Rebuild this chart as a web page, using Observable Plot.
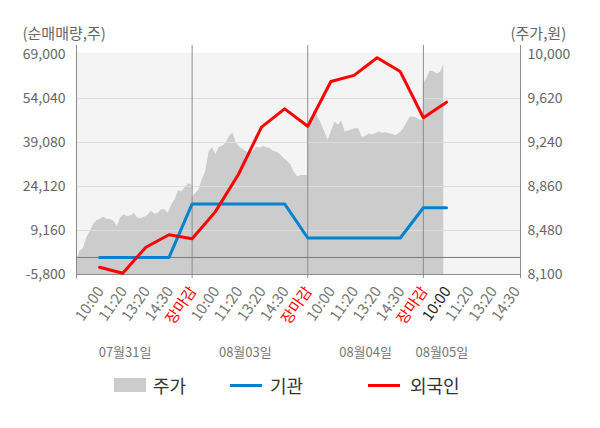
<!DOCTYPE html>
<html><head><meta charset="utf-8">
<script src="https://cdn.jsdelivr.net/npm/d3@7"></script>
<script src="https://cdn.jsdelivr.net/npm/@observablehq/plot@0.6"></script>
<style>
body{margin:0;background:#fff;font-family:"Noto Sans CJK KR","Noto Sans",sans-serif;}
#wrap{width:600px;height:428px;position:relative;overflow:hidden;}
#legend{position:relative;width:600px;height:68px;}
#legend .sw{position:absolute;}
#legend .lb{position:absolute;font-size:18px;color:#333;line-height:18px;}
</style></head><body><div id="wrap"><div id="chart"></div><div id="legend"></div></div>
<script>
// ---- data ----
const leftTicks = [-5800, 9160, 24120, 39080, 54040, 69000];
const rightTicks = [8100, 8480, 8860, 9240, 9620, 10000];
const tickLabels = ["10:00","11:20","13:20","14:30","장마감",
                    "10:00","11:20","13:20","14:30","장마감",
                    "10:00","11:20","13:20","14:30","장마감",
                    "10:00","11:20","13:20","14:30"];
const dateLabels = ["07월31일","08월03일","08월04일","08월05일"];
const datePos = [2.1, 7.3, 12.5, 15.8];
// net buying (shares) at each tick
const institution = [0,0,0,0,18200,18200,18200,18200,18200,6600,6600,6600,6600,6600,16900,16900];
const foreign = [-3320,-5360,3480,7700,6340,15500,28200,44300,50500,44600,59800,61900,67900,63200,47500,52800];
// intraday price (won), sampled evenly through each session
const priceDay1 = [8204,8300,8320,8415,8470,8530,8565,8578,8595,8578,8575,8560,8515,8590,8615,8600,8605,8629,8586,8583,8595,8610,8647,8620,8630,8659,8659,8629,8700,8745,8825,8815,8854,8883,8869];
const priceDay2 = [8760,8797,8830,8920,8990,9160,9195,9136,9200,9208,9235,9295,9320,9235,9200,9180,9160,9145,9165,9200,9190,9205,9195,9186,9165,9156,9135,9105,9078,9048,8985,8945,8955,8955,8955];
const priceDay3 = [9380,9420,9520,9459,9401,9330,9260,9340,9416,9390,9425,9330,9340,9350,9358,9358,9286,9290,9315,9305,9315,9330,9320,9325,9315,9310,9301,9320,9350,9400,9455,9462,9450,9435,9430];
const priceDay4 = [9747,9790,9858,9850,9833,9845,9910];

// ---- build ----
const L0 = leftTicks[0], L1 = leftTicks[leftTicks.length-1];
const R0 = rightTicks[0], R1 = rightTicks[rightTicks.length-1];
const toLeft = p => L0 + (p - R0) / (R1 - R0) * (L1 - L0);
const perDay = 5;
const step = perDay / (priceDay1.length - 1);
const price = [];
[priceDay1, priceDay2, priceDay3, priceDay4].forEach((arr, d) => {
  arr.forEach((p, j) => price.push({t: d * perDay + j * step, v: toLeft(p)}));
});
const inst = institution.map((v, i) => ({t: i + 1, v}));
const forg = foreign.map((v, i) => ({t: i + 1, v}));
const xMax = tickLabels.length + 0.2;
const dayEdges = [0, 5, 10, 15];
const tickData = tickLabels.map((label, i) => ({
  pos: i + 1, label,
  color: label === "장마감" ? "#ff0000" : (i === 15 ? "#222222" : "#777777")
}));
const dateData = dateLabels.map((label, i) => ({label, pos: datePos[i]}));
const fmt = d => d.toLocaleString("en-US");

const chart = Plot.plot({
  width: 600, height: 360,
  marginLeft: 76, marginRight: 80, marginTop: 54, marginBottom: 86,
  style: {fontFamily: '"Noto Sans CJK KR","Noto Sans",sans-serif', fontSize: "14px", background: "#fff", overflow: "visible"},
  x: {domain: [0, xMax], axis: null},
  y: {domain: [L0, L1], axis: null},
  color: {type: "identity"},
  marks: [
    Plot.frame({fill: "#f4f4f4", stroke: null, insetTop: -2}),
    Plot.areaY(price, {x: "t", y1: L0, y2: "v", fill: "#cccccc"}),
    Plot.gridY(leftTicks.slice(1, -1), {stroke: "#dcdcdc", strokeOpacity: 1}),
    Plot.ruleX([...dayEdges, xMax], {stroke: "#8c8c8c", insetTop: -9}),
    Plot.ruleY([0], {stroke: "#777"}),
    Plot.ruleY([L0], {stroke: "#8c8c8c"}),
    Plot.axisX({ticks: [...dayEdges, xMax], tickSize: 4, tickFormat: () => "", stroke: "#8c8c8c", label: null}),
    Plot.line(inst, {x: "t", y: "v", stroke: "#0082cd", strokeWidth: 3}),
    Plot.line(forg, {x: "t", y: "v", stroke: "#ff0000", strokeWidth: 3}),
    Plot.axisY(leftTicks, {anchor: "left", tickSize: 0, tickPadding: 11, tickFormat: fmt, color: "#666", label: null}),
    Plot.axisY(leftTicks, {anchor: "right", tickSize: 0, tickPadding: 7,
      tickFormat: d => fmt(rightTicks[leftTicks.indexOf(d)]), color: "#666", label: null}),
    Plot.text(tickData, {x: "pos", frameAnchor: "bottom", text: "label", rotate: -55,
      textAnchor: "end", lineAnchor: "middle", dx: 1, dy: 14, fill: "color", fontSize: 15}),
    Plot.text(dateData, {x: "pos", frameAnchor: "bottom", dy: 82, text: "label", fill: "#777", fontSize: 13}),
    Plot.text(["(순매매량,주)"], {frameAnchor: "top-left", dx: -54, dy: -26, text: d => d, textAnchor: "start", fill: "#666", fontSize: 15}),
    Plot.text(["(주가,원)"], {frameAnchor: "top-right", dx: -10, dy: -26, text: d => d, textAnchor: "start", fill: "#666", fontSize: 15})
  ]
});
document.getElementById("chart").appendChild(chart);

// legend
const legendItems = [
  {name: "주가", color: "#cccccc", type: "box", x: 114, tx: 153},
  {name: "기관", color: "#0082cd", type: "line", x: 230, tx: 270},
  {name: "외국인", color: "#ff0000", type: "line", x: 368, tx: 410}
];
const lg = document.getElementById("legend");
legendItems.forEach(it => {
  const sw = document.createElement("div");
  sw.className = "sw";
  sw.style.left = it.x + "px";
  sw.style.width = "32px";
  sw.style.background = it.color;
  if (it.type === "box") { sw.style.top = "18px"; sw.style.height = "14px"; }
  else { sw.style.top = "24px"; sw.style.height = "3px"; }
  lg.appendChild(sw);
  const t = document.createElement("div");
  t.className = "lb";
  t.style.left = it.tx + "px";
  t.style.top = "16px";
  t.textContent = it.name;
  lg.appendChild(t);
});
</script></body></html>
